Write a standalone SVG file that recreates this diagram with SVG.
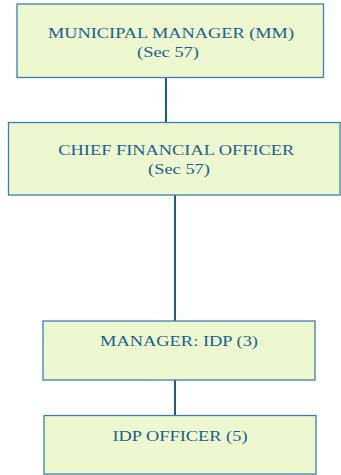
<svg xmlns="http://www.w3.org/2000/svg" width="341" height="475" viewBox="0 0 341 475">
<style>
.box{fill:#EEF8D0;stroke:#3C7FAE;stroke-width:1.3}
.t{font-family:"Liberation Serif","Times New Roman",serif;font-size:15px;fill:#1C5F8C;text-anchor:middle}
.c{stroke:#14608E;stroke-width:2;fill:none}
</style>
<rect width="341" height="475" fill="#fff"/>
<g id="connectors">
<line class="c" x1="166" y1="77.5" x2="166" y2="122"/>
<line class="c" x1="175" y1="195" x2="175" y2="321"/>
<line class="c" x1="175" y1="380" x2="175" y2="415"/>
</g>
<g id="mm">
<rect class="box" x="17" y="4" width="306.5" height="73.5"/>
<text class="t" x="171" y="37.5" textLength="246" lengthAdjust="spacingAndGlyphs">MUNICIPAL MANAGER (MM)</text>
<text class="t" x="168" y="56.5" textLength="62" lengthAdjust="spacingAndGlyphs">(Sec 57)</text>
</g>
<g id="cfo">
<rect class="box" x="8.5" y="122.5" width="331.5" height="72.5"/>
<text class="t" x="176.3" y="155" textLength="236" lengthAdjust="spacingAndGlyphs">CHIEF FINANCIAL OFFICER</text>
<text class="t" x="179" y="174" textLength="62" lengthAdjust="spacingAndGlyphs">(Sec 57)</text>
</g>
<g id="mgr">
<rect class="box" x="43" y="321" width="272" height="59"/>
<text class="t" x="179" y="346" textLength="158" lengthAdjust="spacingAndGlyphs">MANAGER: IDP (3)</text>
</g>
<g id="officer">
<rect class="box" x="44" y="415.5" width="272" height="58.5"/>
<text class="t" x="180" y="441" textLength="135" lengthAdjust="spacingAndGlyphs">IDP OFFICER (5)</text>
</g>
</svg>
